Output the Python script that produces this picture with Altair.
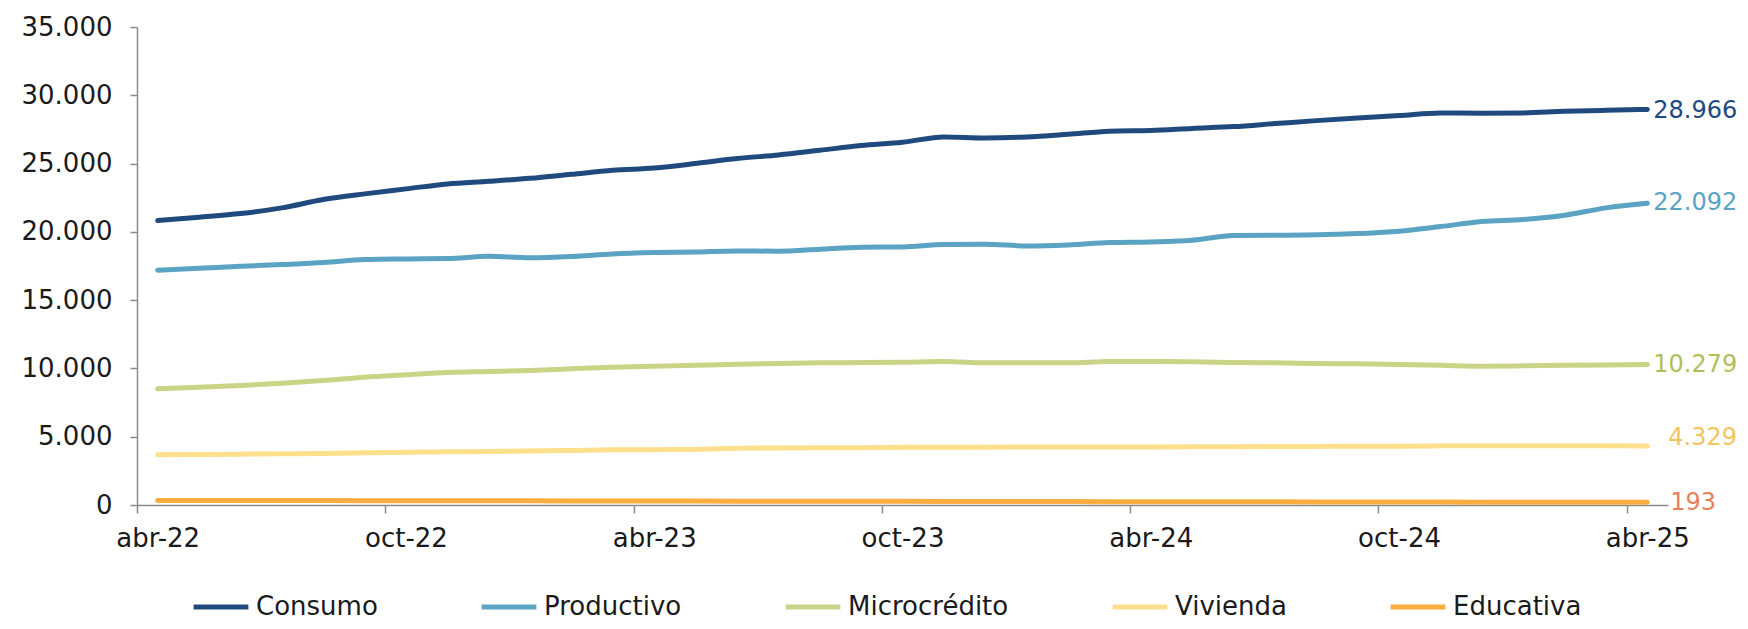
import altair as alt
import pandas as pd

meses = ["abr-22", "may-22", "jun-22", "jul-22", "ago-22", "sep-22", "oct-22", "nov-22", "dic-22",
         "ene-23", "feb-23", "mar-23", "abr-23", "may-23", "jun-23", "jul-23", "ago-23", "sep-23",
         "oct-23", "nov-23", "dic-23", "ene-24", "feb-24", "mar-24", "abr-24", "may-24", "jun-24",
         "jul-24", "ago-24", "sep-24", "oct-24", "nov-24", "dic-24", "ene-25", "feb-25", "mar-25",
         "abr-25"]

consumo = [20826, 21070, 21338, 21755, 22363, 22780, 23146, 23512, 23703, 23922, 24215, 24508,
           24680, 25000, 25365, 25635, 25973, 26315, 26558, 26953, 26880, 26953, 27145, 27365,
           27430, 27575, 27706, 27926, 28145, 28343, 28511, 28708, 28680, 28708, 28826, 28900, 28966]
productivo = [17190, 17335, 17480, 17605, 17750, 17970, 18020, 18045, 18215, 18095, 18190, 18385,
              18483, 18530, 18605, 18580, 18725, 18870, 18900, 19070, 19090, 18970, 19045, 19215,
              19265, 19385, 19727, 19750, 19780, 19875, 20045, 20386, 20752, 20900, 21215, 21755, 22092]
microcredito = [8505, 8625, 8745, 8915, 9115, 9355, 9530, 9700, 9770, 9845, 9970, 10090,
                10165, 10235, 10310, 10360, 10410, 10430, 10455, 10505, 10410, 10410, 10410, 10505,
                10505, 10480, 10430, 10410, 10360, 10335, 10285, 10235, 10165, 10190, 10235, 10260, 10279]
vivienda = [3673, 3700, 3724, 3750, 3773, 3822, 3870, 3895, 3920, 3945, 3993, 4042,
            4050, 4070, 4150, 4175, 4200, 4200, 4225, 4225, 4235, 4240, 4240, 4245,
            4250, 4260, 4270, 4280, 4290, 4300, 4310, 4330, 4345, 4340, 4330, 4330, 4329]
educativa = [335, 332, 330, 327, 324, 320, 317, 313, 309, 305, 300, 296,
             292, 287, 283, 279, 275, 270, 266, 262, 258, 254, 249, 245,
             241, 237, 233, 229, 225, 221, 217, 213, 209, 205, 201, 197, 193]

series = ["Consumo", "Productivo", "Microcrédito", "Vivienda", "Educativa"]
valores = [consumo, productivo, microcredito, vivienda, educativa]
colores = ["#204A7E", "#5BA3C2", "#C9D487", "#FDDF8C", "#FBAD3F"]
colores_etiqueta = ["#204A7E", "#5BA3C2", "#B2BE5C", "#F2C55C", "#E8805A"]
etiqueta_dx = [6, 6, 6, 21, 23]
etiqueta_dy = [2, 0, 0, -8, 1]

rows = []
for s, vals in zip(series, valores):
    for i, v in enumerate(vals):
        rows.append({"i": i, "mes": meses[i], "serie": s, "valor": v})
df = pd.DataFrame(rows)

W, H = 1531, 478
half = W / 37 / 2
FONT = "DejaVu Sans"
FS = 26
GRAY = "#8C8C8C"

label_expr = "[" + ",".join("'" + m + "'" for m in meses) + "][datum.value]"

x_enc = alt.X(
    "i:Q",
    title=None,
    scale=alt.Scale(domain=[-0.5, 36.5], nice=False, zero=False),
    axis=alt.Axis(
        values=list(range(0, 37, 6)),
        labelExpr=label_expr,
        tickOffset=-half,
        labelOffset=half,
        grid=False,
        tickSize=8,
        tickColor=GRAY,
        tickWidth=1.5,
        domainColor=GRAY,
        domainWidth=1.5,
        labelFontSize=FS,
        labelFont=FONT,
        labelColor="#1a1a1a",
        labelPadding=12,
    ),
)
y_enc = alt.Y(
    "valor:Q",
    title=None,
    scale=alt.Scale(domain=[0, 35000], nice=False),
    axis=alt.Axis(
        values=list(range(0, 35001, 5000)),
        labelExpr="replace(format(datum.value, ','), ',', '.')",
        grid=False,
        tickSize=7,
        tickColor=GRAY,
        tickWidth=1.5,
        domainColor=GRAY,
        domainWidth=1.5,
        labelFontSize=FS,
        labelFont=FONT,
        labelColor="#1a1a1a",
        labelPadding=18,
    ),
)

lines = alt.Chart(df).mark_line(strokeWidth=5, strokeCap="round", interpolate="monotone").encode(
    x=x_enc,
    y=y_enc,
    color=alt.Color(
        "serie:N",
        scale=alt.Scale(domain=series, range=colores),
        sort=series,
        legend=alt.Legend(
            title=None,
            orient="none",
            legendX=54,
            legendY=550,
            direction="horizontal",
            symbolType="stroke",
            symbolStrokeWidth=5,
            symbolSize=3000,
            labelFontSize=FS,
            labelFont=FONT,
            labelColor="#1a1a1a",
            labelOffset=5,
            labelLimit=400,
            columnPadding=93,
            padding=0,
        ),
    ),
    detail="serie:N",
)

layers = [lines]
for s, vals, c, dx, dy in zip(series, valores, colores_etiqueta, etiqueta_dx, etiqueta_dy):
    d = pd.DataFrame([{"i": len(vals) - 1, "valor": vals[-1],
                       "txt": f"{vals[-1]:,}".replace(",", ".")}])
    layers.append(
        alt.Chart(d).mark_text(align="left", baseline="middle", dx=dx, dy=dy,
                               fontSize=24, font=FONT, color=c).encode(
            x=alt.X("i:Q"), y=alt.Y("valor:Q"), text="txt:N")
    )

chart = alt.layer(*layers).properties(
    width=W,
    height=H,
    autosize=alt.AutoSizeParams(type="none"),
    padding={"left": 129, "top": 19, "right": 72, "bottom": 115},
).configure(font=FONT).configure_view(stroke=None)

chart.save("out.html", embed_options={"renderer": "svg", "actions": False})
